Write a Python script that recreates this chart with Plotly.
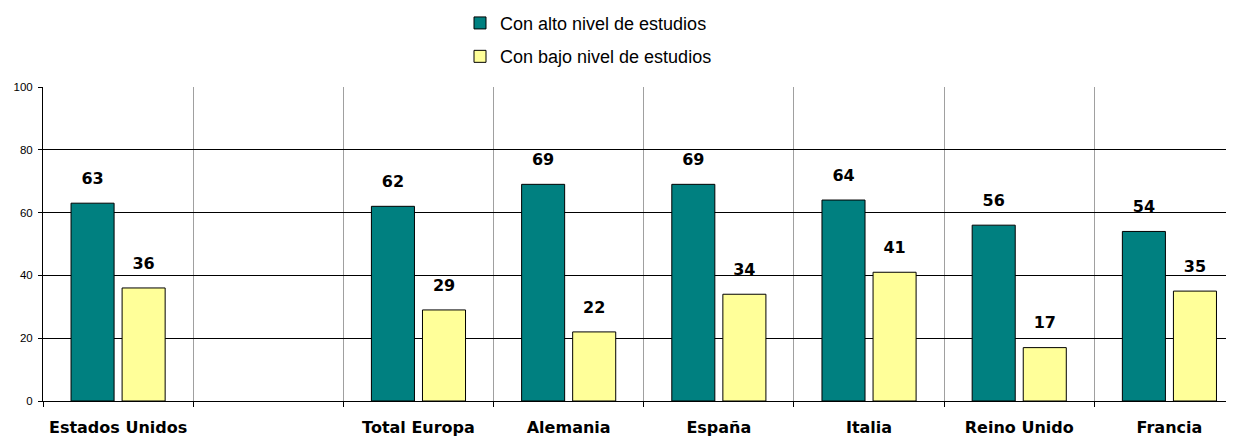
import plotly.graph_objects as go

categories = ["Estados Unidos", " ", "Total Europa", "Alemania", "España", "Italia", "Reino Unido", "Francia"]
alto = [63, None, 62, 69, 69, 64, 56, 54]
bajo = [36, None, 29, 22, 34, 41, 17, 35]
series_names = ["Con alto nivel de estudios", "Con bajo nivel de estudios"]
series_colors = ["#008080", "#FFFF99"]
y_ticks = [0, 20, 40, 60, 80, 100]

fig = go.Figure()
for i, (name, vals, col) in enumerate(zip(series_names, [alto, bajo], series_colors)):
    fig.add_trace(go.Bar(
        x=categories, y=vals, name=name, legendgroup=f"g{i}",
        marker=dict(color=col, line=dict(color="#000000", width=1)),
        hoverinfo="skip",
    ))
for i, vals in enumerate([alto, bajo]):
    fig.add_trace(go.Scatter(
        x=categories, y=vals, mode="markers+text",
        text=["" if v is None else str(v) for v in vals],
        textposition="top center",
        textfont=dict(family="DejaVu Sans", size=16, color="#000000", weight="bold"),
        marker=dict(size=23, opacity=0),
        showlegend=False, hoverinfo="skip", cliponaxis=False,
    ))

# page body has an 8px margin: the figure is sized/offset to compensate
fig.update_layout(
    width=1226, height=429, autosize=False,
    margin=dict(l=35, r=0, t=79, b=36, autoexpand=False),
    paper_bgcolor="#FFFFFF", plot_bgcolor="#FFFFFF",
    barmode="group", bargap=0.32, bargroupgap=0.157,
    scattermode="group", scattergap=0.32,
    showlegend=True,
    legend=dict(
        xref="container", yref="paper",
        x=452 / 1226, y=1.262, xanchor="left", yanchor="top",
        font=dict(family="Liberation Sans", size=18, color="#000000"),
        tracegroupgap=7, bgcolor="rgba(0,0,0,0)", traceorder="grouped",
    ),
    xaxis=dict(
        type="category", range=[-0.5, 7.43], automargin=False,
        tickson="boundaries", ticks="outside", ticklen=5, tickcolor="#000000",
        showgrid=True, gridcolor="#A0A0A0", gridwidth=1,
        showline=True, linecolor="#000000", linewidth=1,
        tickfont=dict(family="DejaVu Sans", size=16, color="#000000", weight="bold"),
        tickangle=0, ticklabelstandoff=12,
        fixedrange=True,
    ),
    yaxis=dict(
        range=[0, 100], tickvals=y_ticks, automargin=False,
        ticks="outside", ticklen=4, tickcolor="#000000",
        showgrid=True, gridcolor="#000000", gridwidth=1,
        showline=True, linecolor="#000000", linewidth=1,
        zeroline=False,
        tickfont=dict(family="Liberation Sans", size=11.5, color="#000000"),
        ticklabelstandoff=3,
        fixedrange=True,
    ),
)

fig.write_html("out.html")
